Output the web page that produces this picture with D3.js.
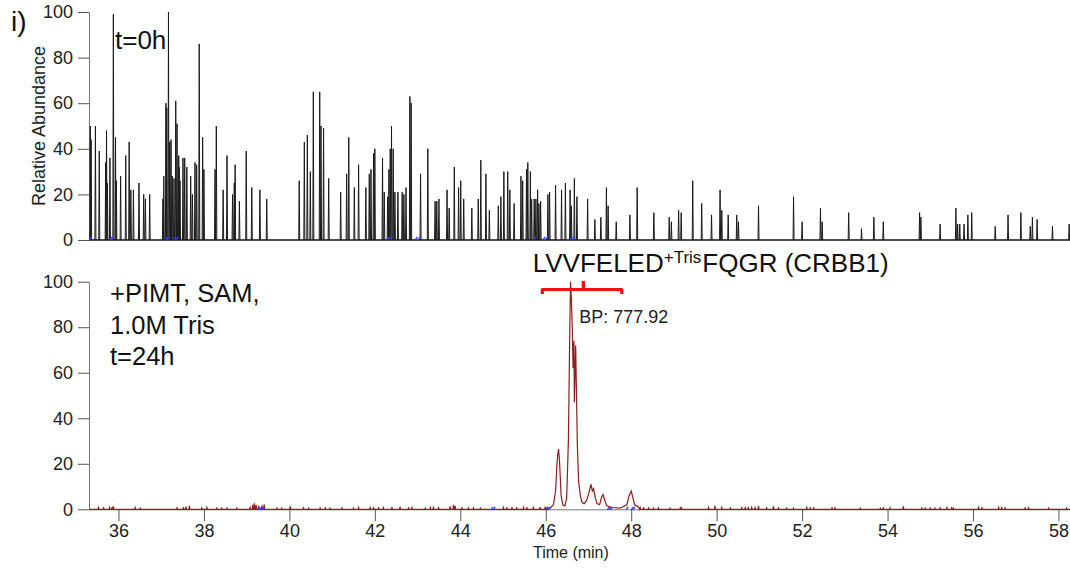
<!DOCTYPE html>
<html>
<head>
<meta charset="utf-8">
<script src="https://cdn.jsdelivr.net/npm/d3@7"></script>
<style>
body { margin: 0; background: #fff; }
svg { font-family: Arial, "Liberation Sans", sans-serif; }
</style>
</head>
<body>
<div id="chart"></div>
<script>
// tick labels
var xTicks = [36, 38, 40, 42, 44, 46, 48, 50, 52, 54, 56, 58];
var yTicks = [0, 20, 40, 60, 80, 100];

// top panel (t=0h): spikes [time, relative abundance]
var topSpikes = [
  [35.34,50],[35.36,44],[35.46,50],[35.55,39],[35.70,34],[35.72,48],[35.74,25],[35.80,36],
  [35.88,99],[35.93,45],[35.95,26],[36.05,28],[36.17,37],[36.25,43],[36.29,22],[36.35,22],
  [36.48,25],[36.59,20],[36.63,18],[36.73,20],[37.04,18],[37.06,28],[37.11,60],[37.13,58],
  [37.17,100],[37.20,43],[37.23,44],[37.26,28],[37.30,27],[37.34,61],[37.37,51],[37.41,37],
  [37.42,32],[37.44,26],[37.51,36],[37.55,36],[37.60,32],[37.69,28],[37.73,20],[37.79,34],
  [37.83,33],[37.89,86],[37.97,45],[38.00,31],[38.26,31],[38.29,50],[38.45,22],[38.54,37],
  [38.67,20],[38.71,25],[38.73,33],[38.83,17],[38.99,39],[39.12,23],[39.31,22],[39.47,18],
  [40.23,26],[40.35,43],[40.42,46],[40.49,30],[40.56,65],[40.71,65],[40.74,50],[40.80,49],
  [40.92,27],[41.20,21],[41.34,29],[41.39,45],[41.52,23],[41.62,33],
  [41.79,23],[41.87,29],[41.91,31],[41.97,38],[42.00,40],[42.18,36],[42.22,21],[42.30,19],
  [42.33,31],[42.36,40],[42.39,50],[42.43,40],[42.47,21],[42.54,21],[42.64,21],[42.68,20],
  [42.73,23],[42.82,63],[42.85,60],[43.07,29],[43.24,40],[43.41,17],[43.45,17],[43.50,18],
  [43.69,22],[43.74,14],[43.86,32],[43.96,23],[44.01,26],[44.08,18],[44.27,14],[44.42,18],
  [44.48,35],[44.60,29],[44.68,13],[44.89,15],[44.95,19],[45.02,30],[45.11,30],[45.16,22],
  [45.26,16],[45.42,28],[45.46,26],[45.55,31],[45.58,34],[45.64,30],[45.67,18],[45.73,18],
  [45.77,18],[45.81,22],[45.84,16],[45.88,17],[46.05,20],[46.09,21],[46.23,24],[46.37,22],
  [46.46,25],[46.57,22],[46.60,15],[46.67,27],[46.73,19],[46.98,18],[47.15,9],[47.29,10],
  [47.42,23],[47.46,15],[47.65,8],[47.97,11],[48.14,23],[48.53,12],[48.89,10],[48.94,8],
  [49.11,13],[49.17,12],[49.44,26],[49.65,16],
  [49.88,11],[50.08,22],[50.12,13],[50.27,11],[50.47,11],[50.51,8],[50.98,15],[51.80,19],
  [52.00,8],[52.43,14],[52.47,8],[53.09,12],[53.39,5],[53.68,10],[53.90,8],[54.75,12],
  [54.78,10],[55.23,7],[55.60,14],[55.64,7],[55.69,7],[55.79,7],[55.88,11],[55.97,12],
  [56.52,6],[56.82,11],[57.12,12],[57.34,6],[57.39,10],[57.50,9],[57.86,6],[58.25,7]
];
var topBlueMarks = [35.32, 35.80, 35.84, 37.10, 37.14, 37.30, 37.35, 42.30, 42.36, 42.95, 43.02, 45.72, 45.94, 46.00, 46.58, 46.64];

// bottom panel (+PIMT, SAM, 1.0M Tris, t=24h): main trace points [time, relative abundance]
var botPeak = [
  [46.10,0.5],[46.18,2],[46.23,8],[46.26,19],[46.28,24],[46.30,26.5],[46.32,22],[46.34,14],
  [46.36,6],[46.40,2],[46.45,1.5],[46.49,5],[46.53,30],[46.56,75],[46.58,100],[46.60,92],
  [46.62,80],[46.64,62],[46.66,74],[46.67,47],[46.70,72],[46.72,50],[46.74,28],[46.77,12],
  [46.81,6],[46.85,3],[46.90,2.5],[46.96,4],[47.02,8],[47.06,11],[47.09,8],[47.12,9],
  [47.16,5],[47.20,2.5],[47.26,2],[47.31,5.5],[47.34,6.5],[47.38,4],[47.43,1.5],[47.55,0.8],
  [47.74,0.5],[47.90,2],[47.95,6],[48.00,8],[48.04,5],[48.08,2],[48.17,1]
];
// bottom panel: small baseline bumps [time, relative abundance]
var botNoise = [
  [35.53,0.8],[35.65,0.6],[35.79,0.8],[35.85,1.0],[35.88,1.3],[36.39,0.8],[36.51,0.5],[37.37,0.6],
  [37.52,1.0],[37.58,1.2],[37.66,1.5],[37.95,0.6],[38.07,0.8],[38.30,0.5],[38.42,0.5],[38.54,0.5],
  [38.77,0.5],[39.08,0.8],[39.14,2.0],[39.18,2.6],[39.22,2.0],[39.28,1.5],[39.36,1.8],[39.41,2.2],
  [39.71,0.5],[39.82,0.5],[40.02,1.3],[40.33,0.6],[40.45,0.5],[40.72,0.6],[40.84,0.6],[40.95,0.5],
  [41.23,0.6],[41.50,0.5],[41.62,0.8],[41.89,0.8],[41.97,0.6],[42.09,0.6],[42.20,0.7],[42.40,1.0],
  [42.59,1.2],[42.79,0.6],[42.87,0.8],[43.18,0.5],[43.30,0.8],[43.37,0.8],[43.49,1.0],[43.76,1.3],
  [43.84,2.0],[43.88,1.5],[44.04,0.6],[44.19,0.6],[44.31,0.6],[44.47,0.5],[45.01,0.8],[45.09,0.6],
  [45.21,0.7],[45.32,0.6],[45.48,0.8],[45.56,0.6],[45.71,0.7],[45.87,0.9],[45.99,1.2],[46.04,1.0],
  [48.21,0.8],[48.29,0.6],[48.41,0.6],[48.52,0.5],[48.64,0.6],[48.91,0.5],[49.15,0.6],[49.18,0.6],
  [49.81,0.8],[49.96,1.5],[50.12,0.8],[50.32,0.6],[50.59,0.7],[50.67,0.7],[50.74,0.7],[50.82,0.8],
  [50.90,0.7],[50.98,1.5],[51.17,0.6],[51.33,1.3],[51.45,0.6],[51.64,0.5],[51.80,0.5],[52.11,0.8],
  [52.19,0.6],[52.27,0.6],[52.70,0.6],[52.77,0.6],[53.36,0.5],[53.83,0.5],[53.90,0.6],[54.06,0.6],
  [54.37,1.3],[54.80,0.6],[54.88,0.5],[55.00,0.5],[55.11,0.5],[55.23,0.6],[55.39,0.8],[55.50,0.6],
  [55.54,0.5],[56.13,0.8],[56.21,0.6],[56.60,0.8],[56.67,0.7],[56.75,0.6],[57.22,0.6],[57.30,0.6],
  [57.77,0.5],[58.19,0.5]
];
var botBlueMarks = [39.25, 39.30, 39.35, 44.72, 44.77, 46.00, 46.04, 47.44, 47.48, 47.52, 47.88, 48.00, 48.04];

// bracket span for the annotated peptide (time)
var bracketSpan = [45.92, 47.78, 46.88];

var width = 1070, height = 568;
var svg = d3.select('#chart').append('svg')
  .attr('width', width)
  .attr('height', height);

var x = d3.scaleLinear().domain([35.31, 58.27]).range([89, 1070]);
var yTop = d3.scaleLinear().domain([0, 100]).range([240, 12]);
var yBot = d3.scaleLinear().domain([0, 100]).range([509.3, 281.7]);

var minorY = [];
for (var v = 0; v <= 100; v += 5) minorY.push(v);
var minorX = [];
for (var t = 35.5; t <= 58.2; t += 0.5) minorX.push(t);

function yAxis(y) {
  var g = svg.append('g').attr('transform', 'translate(89,0)');
  g.call(d3.axisLeft(y).tickValues(minorY).tickSize(7).tickSizeOuter(0).tickFormat(''));
  g.call(d3.axisLeft(y).tickValues(yTicks).tickSize(11).tickSizeOuter(0).tickPadding(5));
  g.selectAll('path').style('stroke', '#777');
  g.selectAll('line').style('stroke', '#555');
  g.selectAll('text').style('font-size', '18px').style('fill', '#222').style('font-family', 'Arial, "Liberation Sans", sans-serif');
  return g;
}

// ---- top panel
yAxis(yTop);
svg.append('line')
  .attr('x1', x.range()[0]).attr('x2', x.range()[1])
  .attr('y1', yTop(0)).attr('y2', yTop(0))
  .style('stroke', '#111').style('stroke-width', '1.6px');

var spikeLine = d3.line().x(function(d){ return x(d[0]); });

svg.append('g').selectAll('path')
  .data(topSpikes)
  .enter().append('path')
  .attr('d', function(d) {
    return spikeLine.y(function(p){ return yTop(p[1]); })([[d[0]-0.012, 0], [d[0], d[1]], [d[0]+0.012, 0]]);
  })
  .style('fill', 'none')
  .style('stroke', '#1a1a1a')
  .style('stroke-width', '1px');

svg.append('g').selectAll('line')
  .data(topBlueMarks)
  .enter().append('line')
  .attr('x1', function(d){ return x(d); }).attr('x2', function(d){ return x(d) + 2; })
  .attr('y1', yTop(0) - 0.5).attr('y2', yTop(0) - 3)
  .style('stroke', '#3a3aff').style('stroke-width', '1.3px');

// ---- bottom panel
yAxis(yBot);
var xg = svg.append('g').attr('transform', 'translate(0,' + yBot(0) + ')');
xg.call(d3.axisBottom(x).tickValues(minorX).tickSize(8).tickSizeOuter(0).tickFormat(''));
xg.call(d3.axisBottom(x).tickValues(xTicks).tickSize(12).tickSizeOuter(0).tickPadding(3));
xg.selectAll('path').style('stroke', '#777');
xg.selectAll('line').style('stroke', '#555');
xg.selectAll('text').style('font-size', '18px').style('fill', '#222').style('font-family', 'Arial, "Liberation Sans", sans-serif');

// build trace: baseline + noise bumps + peak points
var trace = [[x.domain()[0], 0], [x.domain()[1], 0]];
botNoise.forEach(function(d) {
  if (d[0] < botPeak[0][0] || d[0] > botPeak[botPeak.length-1][0]) {
    trace.push([d[0]-0.012, 0], [d[0], d[1]], [d[0]+0.012, 0]);
  }
});
botPeak.forEach(function(d){ trace.push(d); });
trace.sort(function(a, b){ return a[0] - b[0]; });

svg.append('path')
  .datum(trace)
  .attr('d', d3.line().x(function(d){ return x(d[0]); }).y(function(d){ return yBot(d[1]); }))
  .style('fill', 'none')
  .style('stroke', '#8e1f1f')
  .style('stroke-width', '1.2px');

svg.append('g').selectAll('line')
  .data(botBlueMarks)
  .enter().append('line')
  .attr('x1', function(d){ return x(d); }).attr('x2', function(d){ return x(d) + 2; })
  .attr('y1', yBot(0) + 0.5).attr('y2', yBot(0) - 2.5)
  .style('stroke', '#3a3aff').style('stroke-width', '1.3px');

// ---- labels
svg.append('text')
  .attr('transform', 'translate(45,126) rotate(-90)')
  .attr('text-anchor', 'middle')
  .style('font-size', '18px').style('fill', '#222')
  .text('Relative Abundance');

svg.append('text').attr('x', 533).attr('y', 558)
  .style('font-size', '16px').style('fill', '#222')
  .text('Time (min)');

svg.append('text').attr('x', 11).attr('y', 31)
  .style('font-size', '28px').style('fill', '#111')
  .text('i)');

svg.append('text').attr('x', 115).attr('y', 49)
  .style('font-size', '26px').style('fill', '#111')
  .text('t=0h');

var cond = ['+PIMT, SAM,', '1.0M Tris', 't=24h'];
svg.append('g').selectAll('text')
  .data(cond)
  .enter().append('text')
  .attr('x', 110)
  .attr('y', function(d, i){ return 301.7 + i * 31.8; })
  .style('font-size', '25.5px').style('fill', '#111')
  .text(function(d){ return d; });

var ann = svg.append('text').attr('x', 532.7).attr('y', 272.3)
  .style('font-size', '26px').style('fill', '#111');
ann.append('tspan').text('LVVFELED');
ann.append('tspan').attr('dy', -9).style('font-size', '17px').text('+Tris');
ann.append('tspan').attr('dy', 9).attr('dx', 1).text('FQGR (CRBB1)');

var bx0 = x(bracketSpan[0]), bx1 = x(bracketSpan[1]), bxc = x(bracketSpan[2]);
svg.append('path')
  .attr('d', 'M' + bx0 + ',294 L' + bx0 + ',289.5 L' + bx1 + ',289.5 L' + bx1 + ',294 M' + bxc + ',289.5 L' + bxc + ',281')
  .style('fill', 'none')
  .style('stroke', '#f01010')
  .style('stroke-width', '3.2px')
  .style('stroke-linejoin', 'round');

svg.append('text').attr('x', 579.3).attr('y', 322.7)
  .style('font-size', '18px').style('fill', '#222')
  .text('BP: 777.92');
</script>
</body>
</html>
